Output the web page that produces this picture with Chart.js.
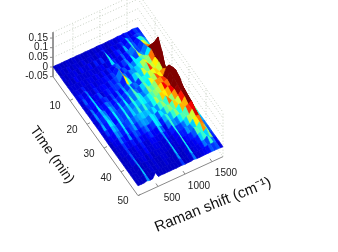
<!DOCTYPE html>
<html>
<head>
<meta charset="utf-8">
<script src="https://cdn.jsdelivr.net/npm/chart.js@4"></script>
<style>
html, body { margin: 0; padding: 0; background: #fff; }
canvas { display: block; filter: blur(0.3px); }
</style>
</head>
<body>
<canvas id="surface" width="338" height="252"></canvas>
<script>
// Raman shift of each column (cm-1), time of each row (min)
const shifts = [130,184,238,293,347,401,455,510,564,618,672,727,781,835,889,944,998,1052,1106,1161,1215,1269,1323,1378,1432,1486,1540,1595,1649,1704];
const times = [0,2.2,4.3,6.5,8.7,10.9,13,15.2,17.4,19.6,21.7,23.9,26.1,28.3,30.4,32.6,34.8,37,39.1,41.3,43.5,45.7,47.8,50];

// intensity x 1000, one row per time
const intensity = [
[1,2,1,1,2,1,2,1,2,1,1,2,1,2,1,3,2,1,2,3,2,3,5,3,6,3,4,8,6,2],
[1,2,1,3,1,2,2,1,3,1,2,2,1,3,2,7,2,1,4,2,3,7,4,16,8,4,8,10,8,2],
[2,1,2,2,3,1,4,2,2,4,1,6,2,7,2,22,4,2,5,8,3,16,6,22,10,6,22,24,14,3],
[1,2,1,4,2,2,2,2,3,2,2,3,4,2,3,19,7,3,3,11,5,12,12,28,9,8,36,30,18,3],
[2,2,2,2,3,2,3,3,2,4,2,5,2,6,4,8,11,4,8,14,5,20,9,34,14,12,46,36,20,4],
[2,3,2,6,2,2,4,2,3,3,4,6,3,8,6,28,6,10,5,16,12,20,20,26,30,20,58,62,26,4],
[3,6,3,12,3,2,6,3,4,5,3,8,6,9,12,42,13,7,14,14,18,22,32,38,30,46,70,100,40,5],
[2,10,4,18,3,4,9,2,4,7,5,8,8,12,6,38,22,8,18,24,18,34,28,50,34,38,58,155,60,5],
[2,6,5,18,5,3,6,8,3,9,4,12,5,15,8,22,9,12,8,24,22,22,34,36,40,34,62,110,30,4],
[2,12,4,20,6,5,12,10,5,12,6,15,7,18,12,26,12,9,18,27,20,36,32,48,38,44,52,48,28,4],
[3,14,6,16,12,5,16,12,6,18,8,20,8,24,12,24,20,12,16,30,26,30,44,44,50,44,80,90,55,6],
[2,12,7,18,14,6,20,10,8,20,10,18,12,22,16,22,20,16,22,26,30,32,40,54,46,58,90,105,85,8],
[3,16,6,20,17,5,20,10,8,22,9,18,14,24,14,24,16,14,22,32,26,40,38,42,54,52,86,100,75,8],
[2,8,5,17,14,7,20,8,9,18,10,14,16,18,16,18,14,20,14,24,30,24,46,30,44,60,78,84,52,7],
[2,4,4,14,11,6,18,6,10,15,7,12,15,14,12,20,18,10,20,16,26,30,26,40,34,52,72,78,42,6],
[1,3,3,12,6,4,14,4,10,8,5,8,12,6,8,20,18,6,16,24,16,24,30,22,42,42,68,70,30,5],
[1,2,2,8,4,3,6,3,8,4,3,5,8,4,4,18,10,3,12,24,14,12,20,26,26,50,54,66,24,4],
[1,2,2,8,2,2,4,2,6,2,2,4,4,3,3,14,5,3,6,22,8,8,12,18,32,34,56,52,16,3],
[1,1,2,10,2,2,3,2,5,2,2,3,3,2,2,16,3,2,4,22,6,6,14,12,18,38,46,46,12,3],
[1,1,2,13,1,2,3,1,3,1,2,2,2,2,2,18,2,2,3,24,4,5,6,10,26,24,44,30,10,3],
[1,1,1,16,1,1,2,1,2,1,1,2,2,1,1,18,2,1,2,20,3,3,4,6,18,24,18,30,7,2],
[1,1,1,18,1,1,2,1,2,1,1,2,1,1,1,14,1,1,2,18,2,3,3,5,12,9,24,12,5,2],
[1,1,1,14,1,1,2,1,1,1,1,1,1,1,1,8,1,1,2,12,2,2,3,4,5,10,8,10,3,2],
[1,1,1,5,1,2,28,1,2,1,2,1,2,1,2,3,1,2,2,5,2,2,2,3,3,3,3,3,2,1]
];

const timeTicks = [10, 20, 30, 40, 50];
const shiftTicks = [500, 1000, 1500];
const zTicks = [-0.05, 0, 0.05, 0.1, 0.15];
const zFloor = -0.05;
const zTop = 0.18;

// oblique view of the box, in canvas units
function project(shift, time, z) {
    const u = (shift - 130) / (1704 - 130);
    const v = time / 50;
    return {
        x: 53 + 85 * (u + v),
        y: 67 - 39 * u + 119 * v - 193 * z
    };
}

// jet colormap
function jet(z) {
    const t = Math.min(1, Math.max(0, (z + 0.0035) / 0.065));
    const ch = (c) => Math.round(255 * Math.min(1, Math.max(0, 1.5 - Math.abs(4 * t - c))));
    return `rgb(${ch(3)},${ch(2)},${ch(1)})`;
}

function lineSet(points, color, width, dash) {
    return {
        type: 'line',
        data: points,
        borderColor: color,
        borderWidth: width,
        borderDash: dash || [],
        pointRadius: 0,
        fill: false,
        tension: 0
    };
}

const back = [];
const gridColor = '#c6cfc2';
const axisColor = '#8a8a8a';

// back walls
[...zTicks, zTop].forEach(z => {
    back.push(lineSet([project(130, 0, z), project(1704, 0, z), project(1704, 50, z)], gridColor, 1, [1, 2]));
});
shiftTicks.forEach(s => {
    back.push(lineSet([project(s, 0, zFloor), project(s, 0, zTop)], gridColor, 1, [1, 2]));
});
timeTicks.forEach(t => {
    back.push(lineSet([project(1704, t, zFloor), project(1704, t, zTop)], gridColor, 1, [1, 2]));
});

// axes on the floor plus z axis
back.push(lineSet([project(130, 0, zTop), project(130, 0, zFloor), project(130, 50, zFloor), project(1704, 50, zFloor)], axisColor, 1));
timeTicks.forEach(t => {
    const p = project(130, t, zFloor);
    back.push(lineSet([p, { x: p.x + 3, y: p.y - 1.5 }], axisColor, 1));
});
shiftTicks.forEach(s => {
    const p = project(s, 50, zFloor);
    back.push(lineSet([p, { x: p.x - 2, y: p.y - 3 }], axisColor, 1));
});
zTicks.forEach(z => {
    const p = project(130, 0, z);
    back.push(lineSet([p, { x: p.x - 3, y: p.y }], axisColor, 1));
});

// surface, far corner first, flat colour from the first corner of each cell
// (cells touching a tall peak take the peak colour)
for (let r = 0; r < times.length - 1; r++) {
    for (let c = shifts.length - 2; c >= 0; c--) {
        const a = intensity[r][c] / 1000;
        const b = intensity[r][c + 1] / 1000;
        const d = intensity[r + 1][c + 1] / 1000;
        const e = intensity[r + 1][c] / 1000;
        const top = Math.max(a, b, d, e);
        const color = jet(top > 0.08 ? top : a);
        const p0 = project(shifts[c], times[r], a);
        back.push({
            type: 'line',
            data: [p0, project(shifts[c + 1], times[r], b), project(shifts[c + 1], times[r + 1], d), project(shifts[c], times[r + 1], e), p0],
            borderColor: color,
            backgroundColor: color,
            borderWidth: 0.7,
            pointRadius: 0,
            fill: 'shape',
            tension: 0
        });
    }
}

// Chart.js paints the first dataset last
const datasets = back.reverse();

const axisText = {
    id: 'axisText',
    afterDraw(chart) {
        const ctx = chart.ctx;
        ctx.save();
        ctx.fillStyle = '#222';
        ctx.textBaseline = 'middle';
        ctx.font = '10px "Liberation Sans", Arial, sans-serif';
        ctx.textAlign = 'right';
        zTicks.forEach(z => {
            const p = project(130, 0, z);
            ctx.fillText(String(z), p.x - 5, p.y);
        });
        ctx.textAlign = 'center';
        timeTicks.forEach(t => {
            const p = project(130, t, zFloor);
            ctx.fillText(String(t), p.x - 15, p.y + 6);
        });
        shiftTicks.forEach(s => {
            const p = project(s, 50, zFloor);
            ctx.fillText(String(s), p.x + 14, p.y + 12);
        });
        ctx.font = '14px "Liberation Sans", Arial, sans-serif';
        ctx.fillStyle = '#111';
        ctx.translate(52, 155);
        ctx.rotate(55 * Math.PI / 180);
        ctx.fillText('Time (min)', 0, 0);
        ctx.restore();
        ctx.save();
        ctx.fillStyle = '#111';
        ctx.textBaseline = 'middle';
        ctx.textAlign = 'center';
        ctx.font = '15px "Liberation Sans", Arial, sans-serif';
        ctx.translate(213, 205);
        ctx.rotate(-22 * Math.PI / 180);
        ctx.fillText('Raman shift (cm\u207B\u00B9)', 0, 0);
        ctx.restore();
    }
};

new Chart(document.getElementById('surface'), {
    type: 'line',
    data: { datasets: datasets },
    plugins: [axisText],
    options: {
        responsive: false,
        animation: false,
        layout: { padding: 0 },
        plugins: { legend: { display: false }, tooltip: { enabled: false } },
        scales: {
            x: { type: 'linear', display: false, min: 0, max: 338 },
            y: { type: 'linear', display: false, min: 0, max: 252, reverse: true }
        }
    }
});
</script>
</body>
</html>
